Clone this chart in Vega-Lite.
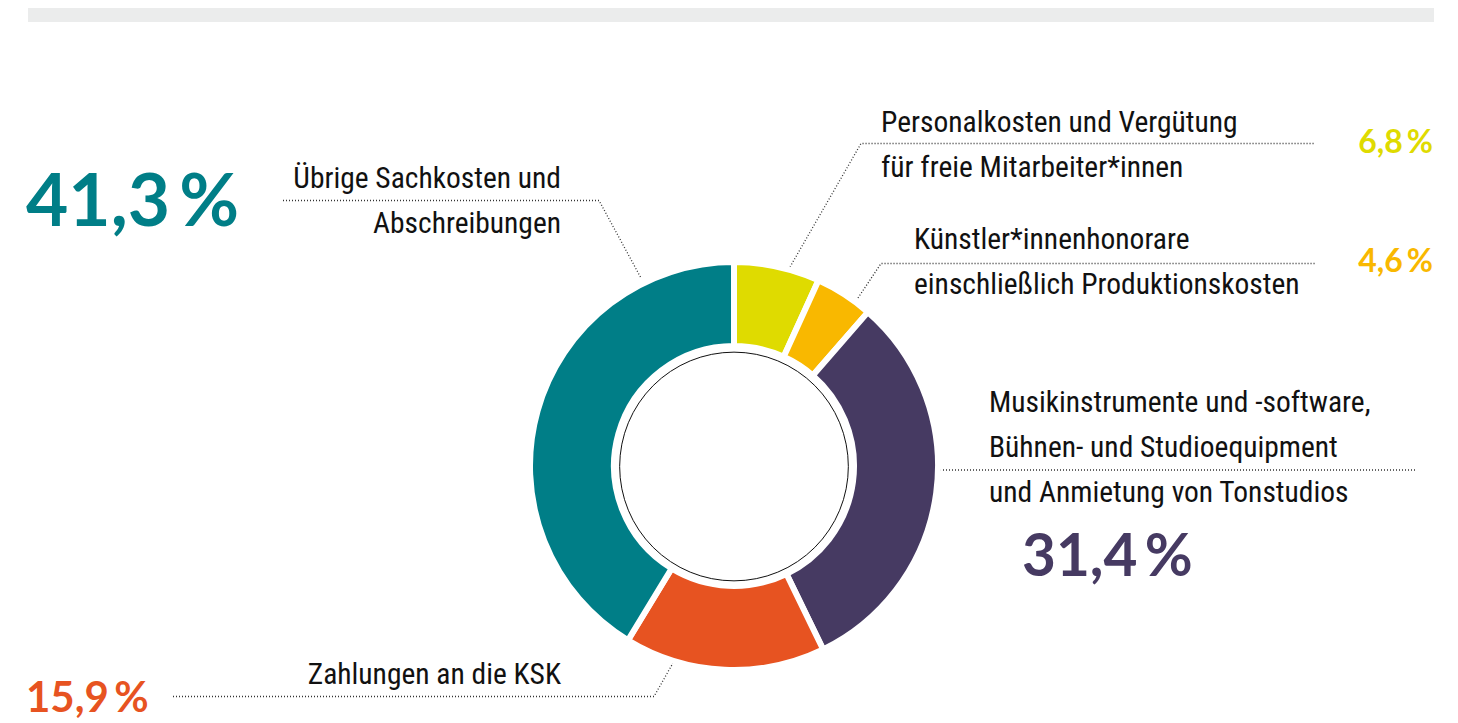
{
  "$schema": "https://vega.github.io/schema/vega-lite/v6.json",
  "width": 1458,
  "height": 723,
  "autosize": {"type": "none"},
  "padding": 0,
  "background": "white",
  "config": {"view": {"stroke": null}},
  "datasets": {
    "frame": [{"x": 28, "x2": 1434, "y": 8, "y2": 22}],
    "segments": [
      {"category": "Personalkosten", "share": 6.8, "order": 1},
      {"category": "Künstler", "share": 4.6, "order": 2},
      {"category": "Musikinstrumente", "share": 31.4, "order": 3},
      {"category": "KSK", "share": 15.9, "order": 4},
      {"category": "Übrige", "share": 41.3, "order": 5}
    ],
    "leaders": [
      {"id": "Übrige", "seq": 1, "x": 283, "y": 200.5},
      {"id": "Übrige", "seq": 2, "x": 599, "y": 200.5},
      {"id": "Übrige", "seq": 3, "x": 641, "y": 278},
      {"id": "Personalkosten", "seq": 1, "x": 790, "y": 267},
      {"id": "Personalkosten", "seq": 2, "x": 861, "y": 143.5},
      {"id": "Personalkosten", "seq": 3, "x": 1315, "y": 143.5},
      {"id": "Künstler", "seq": 1, "x": 858, "y": 298},
      {"id": "Künstler", "seq": 2, "x": 881, "y": 263.5},
      {"id": "Künstler", "seq": 3, "x": 1315, "y": 263.5},
      {"id": "Musikinstrumente", "seq": 1, "x": 940, "y": 470},
      {"id": "Musikinstrumente", "seq": 2, "x": 1415, "y": 470},
      {"id": "KSK", "seq": 1, "x": 173, "y": 696.5},
      {"id": "KSK", "seq": 2, "x": 654, "y": 696.5},
      {"id": "KSK", "seq": 3, "x": 673, "y": 663}
    ],
    "labelsLeft": [
      {"text": "Personalkosten und Vergütung", "x": 881, "y": 132},
      {"text": "für freie Mitarbeiter*innen", "x": 881, "y": 177},
      {"text": "Künstler*innenhonorare", "x": 914, "y": 249},
      {"text": "einschließlich Produktionskosten", "x": 914, "y": 294},
      {"text": "Musikinstrumente und -software,", "x": 989, "y": 412},
      {"text": "Bühnen- und Studioequipment", "x": 989, "y": 457},
      {"text": "und Anmietung von Tonstudios", "x": 989, "y": 502}
    ],
    "labelsRight": [
      {"text": "Übrige Sachkosten und", "x": 561, "y": 188},
      {"text": "Abschreibungen", "x": 561, "y": 233},
      {"text": "Zahlungen an die KSK", "x": 561, "y": 684}
    ],
    "pctBig": [{"category": "Übrige", "pct": "41,3\u2009%", "x": 26, "y": 226}],
    "pctMid": [{"category": "Musikinstrumente", "pct": "31,4\u2009%", "x": 1022, "y": 576}],
    "pctSmall": [{"category": "KSK", "pct": "15,9\u2009%", "x": 26, "y": 712}],
    "pctRight": [
      {"category": "Personalkosten", "pct": "6,8\u2009%", "x": 1433, "y": 153},
      {"category": "Künstler", "pct": "4,6\u2009%", "x": 1433, "y": 272}
    ]
  },
  "encoding": {
    "x": {"type": "quantitative", "scale": {"domain": [0, 1458], "range": [0, 1458], "zero": false, "nice": false}, "axis": null},
    "y": {"type": "quantitative", "scale": {"domain": [0, 723], "range": [0, 723], "zero": false, "nice": false}, "axis": null}
  },
  "layer": [
    {
      "data": {"name": "frame"},
      "mark": {"type": "rect", "color": "#ebecec"},
      "encoding": {
        "x": {"field": "x", "type": "quantitative"},
        "x2": {"field": "x2"},
        "y": {"field": "y", "type": "quantitative"},
        "y2": {"field": "y2"}
      }
    },
    {
      "data": {"name": "leaders"},
      "mark": {"type": "line", "color": "#333333", "strokeWidth": 1.3, "strokeDash": [1, 2], "interpolate": "linear"},
      "encoding": {
        "x": {"field": "x", "type": "quantitative"},
        "y": {"field": "y", "type": "quantitative"},
        "detail": {"field": "id"},
        "order": {"field": "seq"}
      }
    },
    {
      "data": {"name": "segments"},
      "mark": {"type": "arc", "outerRadius": 204, "innerRadius": 120, "stroke": "white", "strokeWidth": 6},
      "encoding": {
        "theta": {"field": "share", "type": "quantitative", "stack": true},
        "order": {"field": "order", "type": "quantitative"},
        "color": {
          "field": "category", "type": "nominal",
          "scale": {
            "domain": ["Personalkosten", "Künstler", "Musikinstrumente", "KSK", "Übrige"],
            "range": ["#dfdb00", "#f9b800", "#463a62", "#e75321", "#007e87"]
          },
          "legend": null
        },
        "x": {"datum": 734, "type": "quantitative"},
        "y": {"datum": 466, "type": "quantitative"}
      }
    },
    {
      "data": {"values": [{"ring": "inner"}]},
      "mark": {"type": "point", "shape": "circle", "size": 52300, "filled": false, "stroke": "#111111", "strokeWidth": 1, "opacity": 1},
      "encoding": {
        "x": {"datum": 734, "type": "quantitative"},
        "y": {"datum": 466.5, "type": "quantitative"}
      }
    },
    {
      "data": {"name": "labelsLeft"},
      "mark": {"type": "text", "align": "left", "baseline": "alphabetic", "font": "Noto Sans Condensed, Roboto Condensed, Liberation Sans Narrow, Arial Narrow, DejaVu Sans Condensed, sans-serif", "fontSize": 29.5, "color": "#111111"},
      "encoding": {
        "x": {"field": "x", "type": "quantitative"},
        "y": {"field": "y", "type": "quantitative"},
        "text": {"field": "text"}
      }
    },
    {
      "data": {"name": "labelsRight"},
      "mark": {"type": "text", "align": "right", "baseline": "alphabetic", "font": "Noto Sans Condensed, Roboto Condensed, Liberation Sans Narrow, Arial Narrow, DejaVu Sans Condensed, sans-serif", "fontSize": 29.5, "color": "#111111"},
      "encoding": {
        "x": {"field": "x", "type": "quantitative"},
        "y": {"field": "y", "type": "quantitative"},
        "text": {"field": "text"}
      }
    },
    {
      "data": {"name": "pctBig"},
      "mark": {"type": "text", "align": "left", "baseline": "alphabetic", "font": "Lato", "fontWeight": "bold", "fontSize": 73},
      "encoding": {
        "x": {"field": "x", "type": "quantitative"},
        "y": {"field": "y", "type": "quantitative"},
        "text": {"field": "pct"},
        "color": {"field": "category", "type": "nominal"}
      }
    },
    {
      "data": {"name": "pctMid"},
      "mark": {"type": "text", "align": "left", "baseline": "alphabetic", "font": "Lato", "fontWeight": "bold", "fontSize": 58.5},
      "encoding": {
        "x": {"field": "x", "type": "quantitative"},
        "y": {"field": "y", "type": "quantitative"},
        "text": {"field": "pct"},
        "color": {"field": "category", "type": "nominal"}
      }
    },
    {
      "data": {"name": "pctSmall"},
      "mark": {"type": "text", "align": "left", "baseline": "alphabetic", "font": "Lato", "fontWeight": "bold", "fontSize": 42},
      "encoding": {
        "x": {"field": "x", "type": "quantitative"},
        "y": {"field": "y", "type": "quantitative"},
        "text": {"field": "pct"},
        "color": {"field": "category", "type": "nominal"}
      }
    },
    {
      "data": {"name": "pctRight"},
      "mark": {"type": "text", "align": "right", "baseline": "alphabetic", "font": "Lato", "fontWeight": "bold", "fontSize": 32},
      "encoding": {
        "x": {"field": "x", "type": "quantitative"},
        "y": {"field": "y", "type": "quantitative"},
        "text": {"field": "pct"},
        "color": {"field": "category", "type": "nominal"}
      }
    }
  ]
}
